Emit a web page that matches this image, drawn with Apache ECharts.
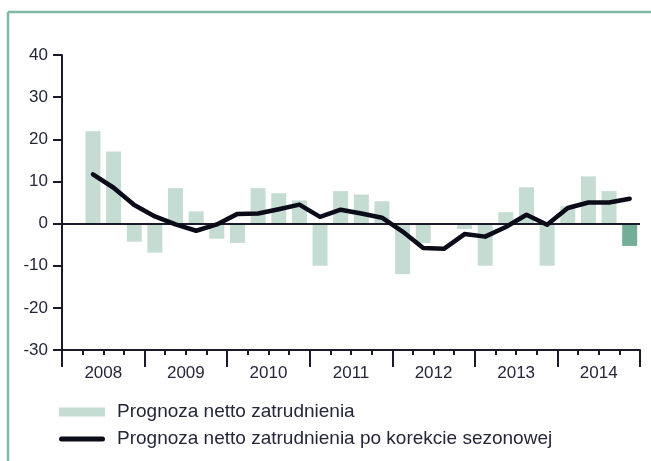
<!DOCTYPE html>
<html>
<head>
<meta charset="utf-8">
<script src="https://cdn.jsdelivr.net/npm/echarts@6/dist/echarts.min.js"></script>
<style>
html,body{margin:0;padding:0;background:#fff;}
#chart{width:651px;height:461px;}
</style>
</head>
<body>
<div id="chart"></div>
<script>
// quarters 2008 Q1 .. 2014 Q4
const years = ['2008','2009','2010','2011','2012','2013','2014'];
const quarters = [];
years.forEach(y => { for (let q = 1; q <= 4; q++) quarters.push(y + ' Q' + q); });

const netOutlook = [null, 21.9, 17.1, -4.3, -6.9, 8.4, 2.9, -3.6, -4.6, 8.4, 7.2, 5.5, -10.0, 7.7, 6.9, 5.3, -12.0, -4.6, 0, -1.3, -10.0, 2.7, 8.6, -10.0, 4.1, 11.2, 7.7, -5.3];
const seasonallyAdjusted = [null, 11.7, 8.5, 4.4, 1.7, -0.2, -1.7, -0.2, 2.3, 2.4, 3.4, 4.5, 1.6, 3.3, 2.4, 1.4, -1.9, -5.8, -6.0, -2.5, -3.1, -0.8, 2.1, -0.3, 3.7, 5.0, 5.0, 5.9];
const yTicks = [-30, -20, -10, 0, 10, 20, 30, 40];

const seriesBarName = 'Prognoza netto zatrudnienia';
const seriesLineName = 'Prognoza netto zatrudnienia po korekcie sezonowej';

const FONT = '"Liberation Sans", Arial, Helvetica, sans-serif';
const AXIS = '#1a1a2a';
const TEXT = '#26263a';
const BAR = '#c4dcd2';
const BAR_HL = '#72ae98';
const LINE = '#0b0b1a';
const FRAME = '#80b9a5';

const chart = echarts.init(document.getElementById('chart'), null, {renderer: 'canvas'});

const barData = netOutlook.map((v, i) => i === netOutlook.length - 1 ? {value: v, itemStyle: {color: BAR_HL}} : v);

chart.setOption({
  animation: false,
  backgroundColor: '#fff',
  graphic: [
    {type: 'line', shape: {x1: 8, y1: 12, x2: 8, y2: 461}, style: {stroke: FRAME, lineWidth: 2.5}},
    {type: 'line', shape: {x1: 8, y1: 12, x2: 651, y2: 12}, style: {stroke: FRAME, lineWidth: 2.5}}
  ],
  grid: {left: 62, right: 11, top: 55, bottom: 111, containLabel: false},
  legend: [
    {
      data: [seriesBarName], orient: 'vertical', left: 59, top: 402, padding: 0,
      icon: 'rect', itemWidth: 46, itemHeight: 9,
      textStyle: {fontFamily: FONT, fontSize: 19, color: TEXT, lineHeight: 20, padding: [0, 0, 0, 7]},
      selectedMode: false
    },
    {
      data: [seriesLineName], orient: 'vertical', left: 59, top: 429, padding: 0,
      icon: 'path://M2.5,0 L43.5,0 A2.5,2.5 0 0 1 43.5,5 L2.5,5 A2.5,2.5 0 0 1 2.5,0 Z',
      itemWidth: 46, itemHeight: 5,
      textStyle: {fontFamily: FONT, fontSize: 19, color: TEXT, lineHeight: 20, padding: [0, 0, 0, 7]},
      selectedMode: false
    }
  ],
  xAxis: [
    {
      type: 'category', data: quarters, position: 'bottom',
      axisLine: {show: true, onZero: false, lineStyle: {color: AXIS, width: 2}},
      axisTick: {show: true, interval: 0, length: 5, lineStyle: {color: AXIS, width: 2}},
      axisLabel: {show: false},
      splitLine: {show: false}
    },
    {
      type: 'category', data: years, position: 'bottom',
      axisLine: {show: false, onZero: false},
      axisTick: {show: true, interval: 0, length: 17, lineStyle: {color: AXIS, width: 2}},
      axisLabel: {show: true, interval: 0, margin: 15, fontFamily: FONT, fontSize: 17, color: TEXT},
      splitLine: {show: false}
    }
  ],
  yAxis: {
    type: 'value', min: yTicks[0], max: yTicks[yTicks.length - 1], interval: 10,
    axisLine: {show: true, lineStyle: {color: AXIS, width: 2}},
    axisTick: {show: true, length: 9, lineStyle: {color: AXIS, width: 2}},
    axisLabel: {margin: 14, fontFamily: FONT, fontSize: 17, color: TEXT},
    splitLine: {show: false}
  },
  series: [
    {
      name: seriesBarName, type: 'bar', xAxisIndex: 0, data: barData,
      barWidth: 15, itemStyle: {color: BAR},
      markLine: {
        silent: true, symbol: 'none', label: {show: false},
        lineStyle: {color: AXIS, width: 2, type: 'solid'},
        data: [{yAxis: 0}]
      },
      z: 2
    },
    {
      name: seriesLineName, type: 'line', xAxisIndex: 0, data: seasonallyAdjusted,
      showSymbol: false, symbol: 'none', smooth: false,
      itemStyle: {color: LINE},
      lineStyle: {color: LINE, width: 4.5, cap: 'round', join: 'round'},
      z: 5
    }
  ]
});
</script>
</body>
</html>
